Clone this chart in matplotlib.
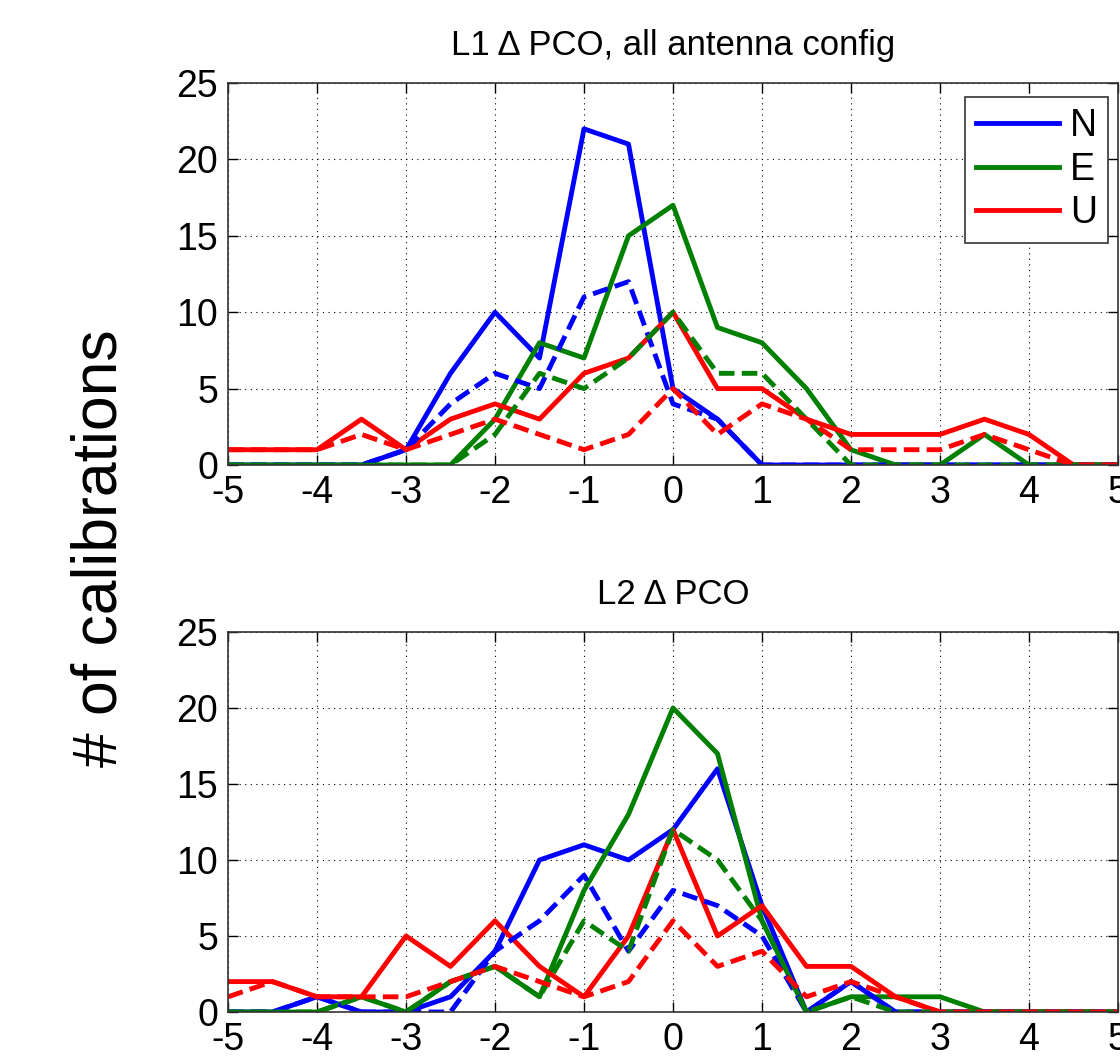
import matplotlib
matplotlib.use("Agg")
import matplotlib.pyplot as plt
import numpy as np

plt.rcParams['font.family'] = ['Liberation Sans', 'DejaVu Sans']
plt.rcParams['axes.unicode_minus'] = False

x = np.arange(-5, 5.01, 0.5)

# L1 (top panel)
l1_N = [0, 0, 0, 0, 1, 6, 10, 7, 22, 21, 5, 3, 0, 0, 0, 0, 0, 0, 0, 0, 0]
l1_N_d = [0, 0, 0, 0, 1, 4, 6, 5, 11, 12, 4, 3, 0, 0, 0, 0, 0, 0, 0, 0, 0]
l1_E = [0, 0, 0, 0, 0, 0, 3, 8, 7, 15, 17, 9, 8, 5, 1, 0, 0, 2, 0, 0, 0]
l1_E_d = [0, 0, 0, 0, 0, 0, 2, 6, 5, 7, 10, 6, 6, 3, 0, 0, 0, 0, 0, 0, 0]
l1_U = [1, 1, 1, 3, 1, 3, 4, 3, 6, 7, 10, 5, 5, 3, 2, 2, 2, 3, 2, 0, 0]
l1_U_d = [1, 1, 1, 2, 1, 2, 3, 2, 1, 2, 5, 2, 4, 3, 1, 1, 1, 2, 1, 0, 0]

# L2 (bottom panel)
l2_N = [0, 0, 1, 0, 0, 1, 4, 10, 11, 10, 12, 16, 7, 0, 2, 0, 0, 0, 0, 0, 0]
l2_N_d = [0, 0, 1, 0, 0, 0, 4, 6, 9, 4, 8, 7, 5, 0, 2, 0, 0, 0, 0, 0, 0]
l2_E = [0, 0, 0, 1, 0, 2, 3, 1, 8, 13, 20, 17, 6, 0, 1, 1, 1, 0, 0, 0, 0]
l2_E_d = [0, 0, 0, 1, 0, 2, 3, 1, 6, 4, 12, 10, 6, 0, 1, 0, 0, 0, 0, 0, 0]
l2_U = [2, 2, 1, 1, 5, 3, 6, 3, 1, 5, 12, 5, 7, 3, 3, 1, 0, 0, 0, 0, 0]
l2_U_d = [1, 2, 1, 1, 1, 2, 3, 2, 1, 2, 6, 3, 4, 1, 2, 1, 0, 0, 0, 0, 0]

titles = ['L1 \u0394 PCO, all antenna config', 'L2 \u0394 PCO']
labels = ['N', 'E', 'U']
colors = ['#0000ff', '#008000', '#ff0000']
ylabel = '# of calibrations'
xticks = [-5, -4, -3, -2, -1, 0, 1, 2, 3, 4, 5]
yticks = [0, 5, 10, 15, 20, 25]

W, H = 1120, 1062
fig = plt.figure(figsize=(W / 100, H / 100), dpi=100)

def frac(l, t, r, b):
    return [l / W, 1 - b / H, (r - l) / W, (b - t) / H]

ax1 = fig.add_axes(frac(228, 83, 1118, 465))
ax2 = fig.add_axes(frac(228, 632, 1118, 1012))

lw = 3.5
dash = (3.2, 1.5)
panels = [
    (ax1, [l1_N, l1_E, l1_U], [l1_N_d, l1_E_d, l1_U_d]),
    (ax2, [l2_N, l2_E, l2_U], [l2_N_d, l2_E_d, l2_U_d]),
]
for i, (ax, sol, das) in enumerate(panels):
    for s, c, lab in zip(sol, colors, labels):
        ax.plot(x, s, color=c, lw=lw, label=lab)
    for d, c in zip(das, colors):
        ax.plot(x, d, color=c, lw=lw, dashes=dash)
    ax.set_xlim(-5, 5)
    ax.set_ylim(0, 25)
    ax.set_xticks(xticks)
    ax.set_yticks(yticks)
    ax.grid(True, color='black', linestyle=(0, (1, 4)), linewidth=0.8)
    ax.tick_params(direction='in', length=7, width=1, top=True, right=True,
                   labelsize=27)
    ax.tick_params(axis='x', pad=7)
    ax.tick_params(axis='y', pad=7)
    for sp in ax.spines.values():
        sp.set_linewidth(1.2)
        sp.set_color('#333333')
    ax.set_title(titles[i], fontsize=25, pad=20)
    ax.set_axisbelow(True)

leg = ax1.legend(loc='upper right', bbox_to_anchor=(0.989, 0.963),
                 borderaxespad=0, fontsize=27, handlelength=2.2,
                 handletextpad=0.3, labelspacing=0.2, borderpad=0.3,
                 fancybox=False, edgecolor='#333333', framealpha=1)
leg.get_frame().set_linewidth(1.2)

fig.text(100 / W, 1 - 548 / H, ylabel, rotation=90, fontsize=45,
         ha='center', va='center')

fig.savefig('out.png', dpi=100)
